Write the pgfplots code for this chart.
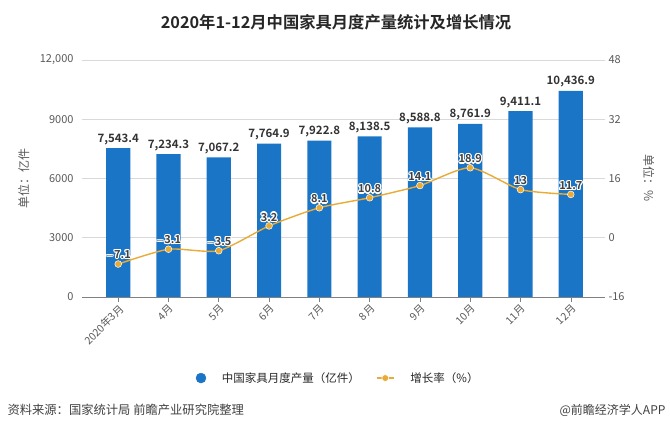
\documentclass[border=0pt]{standalone}
\usepackage{pgfplots}
\pgfplotsset{compat=1.18}
\usepackage{fontspec}
\usepackage[copies]{contour}
\contourlength{1.1pt}
\contournumber{12}
\setmainfont{Noto Sans CJK SC}[BoldFont={Noto Sans CJK SC Bold}]
\definecolor{barblue}{HTML}{1A75C7}
\definecolor{lineor}{HTML}{E9AB36}
\definecolor{txtgray}{HTML}{595959}
\definecolor{gridgray}{HTML}{D9D9D9}
\begin{document}
\begin{tikzpicture}
\path[use as bounding box] (0pt,0pt) rectangle (670pt,434pt);
\begin{axis}[
  at={(82pt,137pt)}, anchor=south west,
  scale only axis, width=523pt, height=237pt,
  xmin=-0.72, xmax=9.68,
  ymin=0, ymax=12000,
  ytick={0,3000,6000,9000,12000},
  yticklabels={0,3000,6000,9000,{12,000}},
  scaled y ticks=false,
  xtick={0,...,9},
  xticklabels={2020年3月,4月,5月,6月,7月,8月,9月,10月,11月,12月},
  x tick label style={rotate=45, anchor=north east, font=\fontsize{10.5}{12}\selectfont, text=txtgray, inner sep=1pt},
  y tick label style={font=\fontsize{11}{12}\selectfont, text=txtgray},
  /pgf/number format/assume math mode=true,
  axis line style={draw=none},
  ymajorgrids, grid style={gridgray, line width=0.6pt},
  major tick length=5pt,
  xtick style={draw=gray, line width=0.6pt},
  ytick style={draw=none},
  tick align=outside, xtick pos=bottom, ytick pos=left,
  ylabel={单位：亿件}, ylabel style={font=\fontsize{12}{13}\selectfont, text=txtgray, at={(axis description cs:-0.094,0.5)}},
  clip=false,
]
\addplot[ybar, bar width=0.48, fill=barblue, draw=none,
  nodes near coords={\pgfmathprintnumber[fixed, fixed zerofill, precision=1, 1000 sep={,}]{\pgfplotspointmeta}},
  nodes near coords style={font=\bfseries\fontsize{11.5}{12}\selectfont, text=black!80}]
 coordinates {
(0,7543.4) (1,7234.3) (2,7067.2) (3,7764.9) (4,7922.8)
(5,8138.5) (6,8588.8) (7,8761.9) (8,9411.1) (9,10436.9)};
\draw[gray, line width=0.8pt] (axis cs:-0.72,0) -- (axis cs:9.68,0);
\end{axis}
\begin{axis}[
  at={(82pt,137pt)}, anchor=south west,
  scale only axis, width=523pt, height=237pt,
  xmin=-0.72, xmax=9.68,
  ymin=-16, ymax=48,
  ytick={-16,0,16,32,48},
  axis x line=none, axis y line*=right,
  axis line style={draw=none}, ytick style={draw=none},
  y tick label style={font=\fontsize{11}{12}\selectfont, text=txtgray},
  /pgf/number format/assume math mode=true,
  ylabel={单位：\%}, ylabel style={font=\fontsize{12}{13}\selectfont, text=txtgray, rotate=180, at={(axis description cs:1.066,0.5)}},
  clip=false,
  legend columns=2,
  legend style={at={(0.49,-0.342)}, anchor=center, draw=none, font=\fontsize{11.5}{12}\selectfont, text=black!85, column sep=14pt},
]
\addlegendimage{only marks, mark=*, mark size=5pt, color=barblue}
\addlegendentry{中国家具月度产量（亿件）}
\addplot[lineor, line width=1.4pt, smooth, tension=0.4, mark=*, mark size=3.4pt,
  mark options={fill=lineor, draw=white, line width=0.5pt},
  nodes near coords={\contour{white}{\pgfplotspointmeta}}, point meta=explicit symbolic,
  nodes near coords style={font=\bfseries\fontsize{11}{12}\selectfont, text=black!75, anchor=south, yshift=0pt}]
  coordinates {
(0,-7.1) [$-$7.1] (1,-3.1) [$-$3.1] (2,-3.5) [$-$3.5] (3,3.2) [3.2] (4,8.1) [8.1]
(5,10.8) [10.8] (6,14.1) [14.1] (7,18.9) [18.9] (8,13) [13] (9,11.7) [11.7]};
\addlegendentry{增长率（\%）}
\end{axis}
\node[font=\bfseries\fontsize{16.3}{17}\selectfont, text=black!85] at (336pt,412pt) {2020年1-12月中国家具月度产量统计及增长情况};
\node[anchor=west, font=\fontsize{12.3}{13}\selectfont, text=black!75] at (4pt,24pt) {资料来源：国家统计局 前瞻产业研究院整理};
\node[anchor=east, font=\fontsize{12}{13}\selectfont, text=black!75] at (669pt,24pt) {@前瞻经济学人APP};
\end{tikzpicture}
\end{document}
